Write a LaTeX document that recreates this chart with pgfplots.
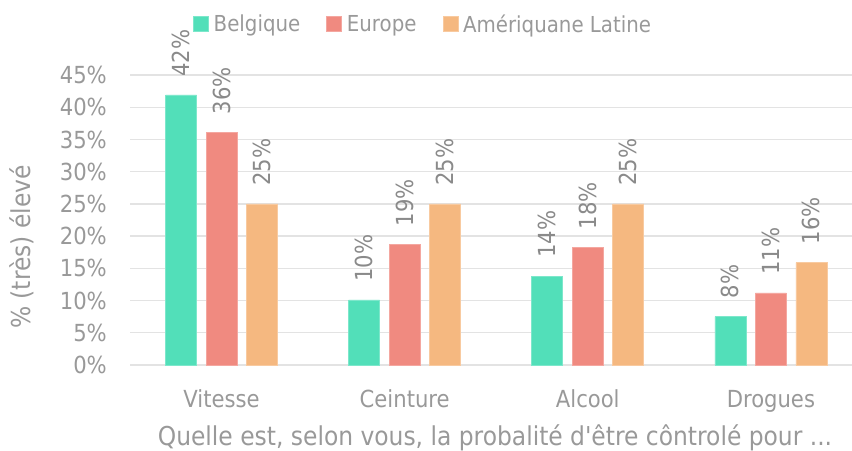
\documentclass[border=0pt]{standalone}
\usepackage{pgfplots}
\pgfplotsset{compat=1.18}
\usepackage{fontspec}
\setmainfont{DejaVu Sans Condensed}
\newfontfamily\plainf{DejaVu Sans Condensed}
\definecolor{cBel}{HTML}{52DFB9}
\definecolor{cEur}{HTML}{F08A80}
\definecolor{cLat}{HTML}{F5B880}
\definecolor{txt}{HTML}{999999}
\definecolor{lab}{HTML}{8A8A8A}
\definecolor{grid}{HTML}{E3E3E3}
\newcommand\tf{\fontsize{23.5bp}{28bp}\selectfont}
\newcommand\lf{\fontsize{22bp}{26bp}\selectfont}
\newcommand\af{\plainf\fontsize{26bp}{30bp}\selectfont}
\begin{document}
\begin{tikzpicture}
\begin{axis}[
  at={(0,0)}, anchor=south west,
  scale only axis, width=722bp, height=290bp,
  xmin=-0.5, xmax=3.443, ymin=0, ymax=45,
  enlargelimits=false, clip=false,
  ybar=9.5bp, bar width=31bp,
  axis line style={draw=none}, major tick length=0pt,
  ymajorgrids, major grid style={draw=grid, line width=1.3bp},
  ytick={0,5,...,45},
  yticklabel={\pgfmathprintnumber{\tick}\%},
  /pgf/number format/assume math mode=true,
  yticklabel style={font=\tf, text=txt, anchor=east, inner sep=0pt, xshift=-23bp},
  xtick={0,1,2,3},
  xticklabels={Vitesse,Ceinture,Alcool,Drogues},
  xticklabel style={font=\tf, text=txt, anchor=base, inner sep=0pt, yshift=-42bp},
  xlabel={Quelle est, selon vous, la probalité d'être côntrolé pour ...},
  xlabel style={font=\af, text=txt, at={(rel axis cs:0.5055,0)}, anchor=base, inner sep=0pt, yshift=-80bp},
  ylabel={\% (très) élevé},
  ylabel style={font=\af, text=txt, at={(rel axis cs:0,0.4069)}, anchor=center, inner sep=0pt, yshift=108bp},
  point meta=explicit symbolic,
  nodes near coords={\pgfplotspointmeta\%},
  every node near coord/.append style={font=\tf, text=lab, rotate=90, anchor=west, inner sep=0pt, xshift=18bp},
  legend columns=3,
  legend style={draw=none, fill=none, at={(rel axis cs:0.406,1.176)}, anchor=center, font=\lf, text=txt,
    /tikz/every even column/.append style={column sep=24bp},
    nodes={inner sep=2bp}},
  legend image code/.code={\fill[#1] (0bp,-7bp) rectangle (15bp,8bp);},
]
\addplot[fill=cBel, draw=cBel!75!white, line width=0.6bp] coordinates {(0,41.9) [42] (1,10.1) [10] (2,13.8) [14] (3,7.5) [8]};
\addplot[fill=cEur, draw=cEur!75!white, line width=0.6bp] coordinates {(0,36.1) [36] (1,18.7) [19] (2,18.2) [18] (3,11.2) [11]};
\addplot[fill=cLat, draw=cLat!75!white, line width=0.6bp] coordinates {(0,25.0) [25] (1,25.0) [25] (2,25.0) [25] (3,15.9) [16]};
\legend{\hspace{3bp}Belgique,\hspace{3bp}Europe,\hspace{3bp}Amériquane Latine}
\end{axis}
\pgfresetboundingbox
\path (-130bp,-86bp) rectangle (722bp,365bp);
\end{tikzpicture}
\end{document}
